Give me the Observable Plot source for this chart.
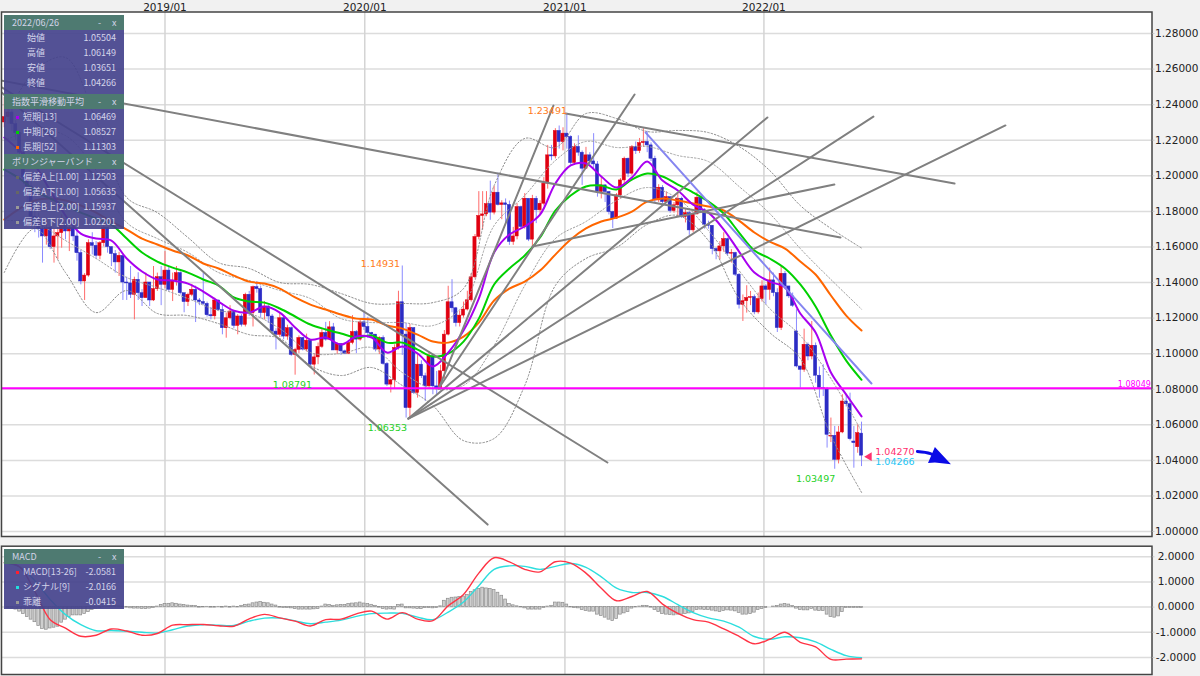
<!DOCTYPE html>
<html lang="ja"><head><meta charset="utf-8">
<script src="https://cdn.jsdelivr.net/npm/d3@7"></script>
<script src="https://cdn.jsdelivr.net/npm/@observablehq/plot@0.6"></script>
<style>
html,body{margin:0;padding:0;background:#f1f1f1;overflow:hidden;width:1200px;height:676px}
#main,#macd{position:absolute;left:0}
#main{top:0}#macd{top:540px}
.box{position:absolute;left:4px;width:120px}
.t{position:absolute;font:9px "Noto Sans CJK JP","Noto Sans",sans-serif;color:#d4d4ea;line-height:12px;white-space:nowrap}
.sw{position:absolute;width:3px;height:3px}
</style></head><body>
<div id="main"></div><div id="macd"></div>
<script>
const firstWeek = -42, firstOpen = 1.2300;
const closes = [
1.2330,1.2356,1.2290,1.2240,1.2130,1.1990,1.1940,1.1770,1.1760,1.1700,
1.1659,1.1706,1.1599,1.1659,1.1678,1.1724,1.1687,1.1706,1.1659,1.1565,
1.1406,1.1439,1.1621,1.1606,1.1550,1.1621,1.1706,1.1599,1.1560,1.1513,
1.1550,1.1400,1.1395,1.1331,1.1415,1.1340,1.1312,1.1400,1.1299,1.1363,
1.1430,1.1387,1.1467,1.1359,1.1411,1.1453,1.1340,1.1290,1.1331,1.1359,
1.1299,1.1290,1.1280,1.1216,1.1210,1.1299,1.1245,1.1143,1.1199,1.1237,
1.1156,1.1209,1.1162,1.1331,1.1228,1.1374,1.1363,1.1228,1.1265,1.1209,
1.1124,1.1106,1.1199,1.1096,1.1143,1.0993,1.1021,1.1088,1.1023,1.1073,
1.0938,1.0979,1.1038,1.1116,1.1079,1.1148,1.1018,1.1054,1.1013,1.1000,
1.1060,1.1122,1.1079,1.1176,1.1150,1.1116,1.1107,1.1023,1.1088,1.0942,
1.0826,1.0850,1.1032,1.1289,1.1107,1.0694,1.1144,1.0779,1.0938,1.0873,
1.0816,1.0985,1.0816,1.0805,1.0901,1.1107,1.1289,1.1255,1.1172,1.1214,
1.1248,1.1300,1.1429,1.1656,1.1774,1.1783,1.1841,1.1793,1.1905,1.1836,
1.1845,1.1836,1.1628,1.1659,1.1824,1.1712,1.1871,1.1641,1.1871,1.1806,
1.1843,1.1956,1.2115,1.2109,1.2252,1.2190,1.2237,1.2218,1.2072,1.2162,
1.2130,1.2040,1.2115,1.2081,1.2064,1.1909,1.1946,1.1909,1.1796,1.1759,
1.1890,1.1974,1.2096,1.2012,1.2162,1.2139,1.2184,1.2190,1.2171,1.2096,
1.1862,1.1933,1.1852,1.1880,1.1802,1.1834,1.1871,1.1768,1.1790,1.1693,
1.1783,1.1877,1.1806,1.1725,1.1719,1.1588,1.1575,1.1603,1.1644,1.1562,
1.1566,1.1444,1.1275,1.1295,1.1313,1.1318,1.1232,1.1307,1.1378,1.1359,
1.1412,1.1341,1.1144,1.1449,1.1378,1.1322,1.1269,1.0928,1.0909,1.1050,
1.0984,1.1044,1.0876,1.0806,1.0800,1.0544,1.0538,1.0403,1.0557,1.0731,
1.0716,1.0519,1.0497,1.0553,1.04266];
const highs = [
1.2440,1.2390,1.2380,1.2310,1.2250,1.2140,1.2000,1.1990,1.1830,1.1790,
1.1720,1.1750,1.1720,1.1700,1.1720,1.1780,1.1750,1.1740,1.1720,1.1700,
1.1580,1.1450,1.1640,1.1680,1.1630,1.1630,1.1730,1.1710,1.1600,1.1580,
1.1570,1.1520,1.1430,1.1490,1.1430,1.1455,1.1360,1.1453,1.1400,1.1490,
1.1453,1.1490,1.1574,1.1490,1.1453,1.1490,1.1460,1.1320,1.1340,1.1390,
1.1380,1.1310,1.1453,1.1290,1.1260,1.1312,1.1300,1.1280,1.1228,1.1270,
1.1240,1.1220,1.1220,1.1340,1.1350,1.1380,1.1405,1.1380,1.1293,1.1270,
1.1220,1.1140,1.1228,1.1210,1.1160,1.1150,1.1030,1.1100,1.1090,1.1110,
1.1080,1.1000,1.1060,1.1135,1.1176,1.1180,1.1170,1.1060,1.1054,1.1020,
1.1070,1.1214,1.1130,1.1190,1.1238,1.1205,1.1120,1.1107,1.1095,1.1100,
1.0950,1.0855,1.1050,1.1351,1.1493,1.1170,1.1165,1.1144,1.1000,1.0960,
1.0890,1.1010,1.0995,1.0900,1.0935,1.1130,1.1379,1.1416,1.1260,1.1240,
1.1290,1.1351,1.1450,1.1670,1.1911,1.1911,1.1911,1.1970,1.1940,1.2015,
1.1860,1.1870,1.1858,1.1710,1.1843,1.1830,1.1900,1.1860,1.1890,1.1884,
1.1860,1.1990,1.2171,1.2171,1.2265,1.2280,1.2270,1.2349,1.2225,1.2180,
1.2225,1.2140,1.2160,1.2130,1.2237,1.2080,1.1990,1.1950,1.1910,1.1800,
1.1900,1.1985,1.2105,1.2100,1.2170,1.2190,1.2210,1.2265,1.2250,1.2185,
1.2110,1.1950,1.1945,1.1910,1.1880,1.1850,1.1905,1.1880,1.1810,1.1800,
1.1790,1.1905,1.1885,1.1815,1.1745,1.1720,1.1595,1.1630,1.1680,1.1650,
1.1585,1.1570,1.1450,1.1330,1.1382,1.1350,1.1330,1.1341,1.1410,1.1388,
1.1481,1.1453,1.1365,1.1494,1.1462,1.1375,1.1341,1.1247,1.0925,1.1138,
1.1060,1.1181,1.1060,1.0925,1.0938,1.0810,1.0638,1.0591,1.0591,1.0769,
1.0770,1.0778,1.0590,1.0600,1.06149];
const lows = [
1.2270,1.2290,1.2250,1.2200,1.2090,1.1950,1.1840,1.1730,1.1680,1.1650,
1.1509,1.1610,1.1585,1.1509,1.1528,1.1593,1.1640,1.1574,1.1630,1.1520,
1.1387,1.1299,1.1430,1.1555,1.1530,1.1528,1.1600,1.1565,1.1490,1.1453,
1.1434,1.1299,1.1299,1.1310,1.1190,1.1299,1.1265,1.1320,1.1265,1.1293,
1.1350,1.1270,1.1365,1.1350,1.1293,1.1380,1.1330,1.1230,1.1265,1.1320,
1.1175,1.1270,1.1270,1.1205,1.1190,1.1190,1.1240,1.1106,1.1087,1.1190,
1.1140,1.1106,1.1150,1.1150,1.1210,1.1150,1.1340,1.1200,1.1190,1.1170,
1.1106,1.1021,1.1090,1.1078,1.1075,1.0985,1.0879,1.1000,1.1015,1.1010,
1.0929,1.0880,1.0938,1.1030,1.1070,1.1075,1.1018,1.0995,1.0990,1.0995,
1.0995,1.1050,1.1000,1.1070,1.1130,1.1085,1.1090,1.1010,1.0995,1.0935,
1.0815,1.0779,1.0800,1.1020,1.0990,1.0638,1.0635,1.0770,1.0750,1.0860,
1.0732,1.0810,1.0769,1.0770,1.0800,1.0860,1.1100,1.1230,1.1150,1.1150,
1.1200,1.1240,1.1290,1.1420,1.1640,1.1695,1.1770,1.1750,1.1780,1.1830,
1.1753,1.1730,1.1609,1.1609,1.1640,1.1700,1.1700,1.1630,1.1600,1.1731,
1.1780,1.1830,1.1925,1.2085,1.2095,1.2150,1.2140,1.2150,1.2060,1.2060,
1.2110,1.1946,1.2065,1.2060,1.2040,1.1880,1.1870,1.1850,1.1780,1.1703,
1.1755,1.1870,1.1950,1.1990,1.2000,1.2120,1.2125,1.2160,1.2130,1.2080,
1.1850,1.1850,1.1840,1.1845,1.1790,1.1790,1.1770,1.1760,1.1735,1.1665,
1.1680,1.1780,1.1790,1.1700,1.1700,1.1556,1.1528,1.1528,1.1570,1.1550,
1.1509,1.1434,1.1251,1.1181,1.1228,1.1270,1.1219,1.1222,1.1290,1.1275,
1.1300,1.1320,1.1119,1.1130,1.1360,1.1310,1.1260,1.0920,1.0806,1.0895,
1.0960,1.0965,1.0834,1.0750,1.0759,1.0469,1.0500,1.0350,1.0380,1.0550,
1.0700,1.0510,1.0356,1.0440,1.03651];
const openGaps = new Map([[165,1.1125],[174,1.0534],[180,1.0506],[181,1.0474],[182,1.05504]]);

// Every 4th week
const ema13 = [1.2215,1.2142,1.2058,1.1917,1.1777,1.1675,1.1647,1.1636,1.1535,1.1462,
1.1417,1.1411,1.1394,1.1349,1.1293,1.1242,1.1231,1.1265,1.1231,1.1147,
1.1079,1.1091,1.1051,1.1096,1.1091,1.1006,1.1040,1.1001,1.0928,1.1006,
1.1130,1.1310,1.1569,1.1670,1.1715,1.1782,1.1957,1.2058,1.2069,1.1996,
1.1934,1.1990,1.2080,1.1973,1.1917,1.1838,1.1793,1.1698,1.1574,1.1456,
1.1405,1.1372,1.1226,1.1119,1.0894,1.0770,1.0647];
const ema26 = [1.2035,1.1985,1.1917,1.1872,1.1833,1.1793,1.1760,1.1726,1.1647,1.1569,
1.1518,1.1484,1.1456,1.1417,1.1383,1.1316,1.1293,1.1287,1.1254,1.1209,
1.1164,1.1136,1.1113,1.1091,1.1102,1.1062,1.1062,1.1023,1.0984,1.1001,
1.1068,1.1197,1.1389,1.1479,1.1552,1.1653,1.1805,1.1889,1.1940,1.1945,
1.1923,1.1979,1.2013,1.1996,1.1951,1.1906,1.1855,1.1788,1.1681,1.1580,
1.1535,1.1479,1.1389,1.1265,1.1102,1.0961,1.0853];
const ema52 = [1.1754,1.1816,1.1861,1.1872,1.1861,1.1833,1.1793,1.1743,1.1698,1.1647,
1.1614,1.1580,1.1552,1.1507,1.1479,1.1439,1.1405,1.1394,1.1366,1.1316,
1.1276,1.1248,1.1220,1.1197,1.1192,1.1158,1.1141,1.1107,1.1068,1.1062,
1.1096,1.1175,1.1299,1.1366,1.1405,1.1467,1.1557,1.1642,1.1704,1.1743,
1.1765,1.1799,1.1855,1.1872,1.1861,1.1844,1.1827,1.1805,1.1748,1.1681,
1.1630,1.1591,1.1518,1.1445,1.1327,1.1214,1.1130];

// Every 8th week
const bandBUp = [1.2311,1.2592,1.2665,1.2311,1.1878,1.1793,1.1653,1.1512,1.1479,1.1400,
1.1389,1.1338,1.1282,1.1282,1.1287,1.1366,1.1945,1.2210,1.2159,1.2350,
1.2322,1.2249,1.2255,1.2243,1.2165,1.2030,1.1833,1.1704,1.1594];
const bandAUp = [1.2198,1.2255,1.2226,1.2030,1.1737,1.1647,1.1569,1.1456,1.1411,1.1355,
1.1310,1.1197,1.1175,1.1175,1.1158,1.1271,1.1720,1.1889,1.2086,1.2193,
1.2159,1.2165,1.2114,1.2080,1.1940,1.1788,1.1591,1.1417,1.1250];
const bandADn = [1.1748,1.1737,1.1636,1.1535,1.1428,1.1372,1.1310,1.1242,1.1226,1.1141,
1.1006,1.1001,1.1034,1.0894,1.0804,1.0821,1.1046,1.1383,1.1647,1.1743,
1.1861,1.1934,1.1872,1.1692,1.1467,1.1254,1.1102,1.0860,1.0564];
const bandBDn = [1.1456,1.1704,1.1456,1.1231,1.1355,1.1226,1.1214,1.1169,1.1107,1.1085,
1.0933,1.0877,1.0922,1.0821,1.0708,1.0511,1.0523,1.0821,1.1383,1.1535,
1.1597,1.1726,1.1777,1.1636,1.1310,1.1119,1.0973,1.0540,1.0220];

// [week1, price1, week2, price2]
const grayLines = [
[71.5,1.0804,101.5,1.2395],[71.5,1.0804,122.7,1.2457],
[63.6,1.0635,157.4,1.2328],[63.6,1.0635,185.1,1.2333],[63.6,1.0635,219.6,1.2283],
[-43,1.2474,84.3,1.0039],[-43,1.2502,115.6,1.0388],[-43,1.2536,176.5,1.1653],
[104.7,1.2350,206.3,1.1957],[96,1.1602,174.9,1.1951]];
const blueLine = [125.6,1.2243,184.6,1.0832];
const levelLine = 1.08049;

const priceTicks = [1.00,1.02,1.04,1.06,1.08,1.10,1.12,1.14,1.16,1.18,1.20,1.22,1.24,1.26,1.28];
const yearWeeks = [0,52.2,104.5,156.5];
const yearLabels = ["2019/01","2020/01","2021/01","2022/01"];
const notesCentered = [
["1.23491",99.9,1.2367,"#ff7a1a"],["1.14931",56.3,1.1507,"#ff7a1a"],
["1.08791",33.3,1.0826,"#1fd11f"],["1.06353",58.1,1.0585,"#1fd11f"],
["1.03497",170,1.0298,"#1fd11f"]];
const notesLeft = [["1.04270",185.6,1.0450,"#ff2f6e"],["1.04266",185.6,1.0393,"#1cc5f5"]];
const notesRight = [["1.08049",257.6,1.0826,"#ff00ff"]];
const arrowShaft = [[196.6,1.0450],[200,1.0438],[202.6,1.0405]];
const arrowHead = [[199.5,1.0382,1.0382],[201.3,1.0385,1.0472],[205.5,1.0376,1.0376]];

// MACD
const macdLine = [1.76,1.6,.62,-.5,-.84,-1.16,-1.12,-.87,-.95,-1.12,
-1.05,-.72,-.7,-.69,-.74,-.76,-.47,-.29,-.43,-.56,
-.75,-.5,-.48,-.27,-.16,-.48,-.22,-.48,-.54,.05,
.5,1.35,1.96,1.8,1.5,1.4,1.8,1.75,1.35,.75,
.25,.42,.62,.12,-.25,-.5,-.6,-.87,-1.16,-1.46,
-1.28,-1.0,-1.4,-1.58,-2.08,-2.07,-2.0581];
const signalLine = [1.76,1.6,1.05,.3,-.3,-.7,-.94,-.93,-.96,-1.0,
-1.03,-.9,-.75,-.7,-.72,-.73,-.56,-.44,-.44,-.55,
-.66,-.6,-.52,-.37,-.26,-.24,-.25,-.4,-.5,-.2,
.2,.85,1.5,1.64,1.62,1.5,1.62,1.73,1.58,1.2,
.75,.58,.58,.42,.1,-.22,-.43,-.56,-.8,-1.17,
-1.28,-1.18,-1.22,-1.38,-1.68,-1.93,-2.0166];
const histogram = [0,-.03,-.06,-.1,-.18,-.28,-.4,-.5,-.6,-.75,
-.87,-.9,-.85,-.82,-.78,-.62,-.5,-.4,-.33,-.33,
-.33,-.27,-.2,-.12,-.06,-.03,.01,.02,.03,.04,
.03,.02,-.02,-.05,-.06,-.06,-.07,-.08,-.06,-.03,
.02,.08,.12,.13,.15,.13,.1,.08,.06,.05,
.04,-.02,-.01,.01,-.02,-.02,.01,-.02,.02,-.02,
.02,-.01,.05,.09,.1,.15,.18,.2,.17,.15,
.1,.06,-.02,-.04,-.04,-.05,-.08,-.1,-.1,-.1,
-.1,-.09,-.08,.02,.1,.08,.05,.07,.08,.08,
.12,.14,.15,.18,.14,.12,.09,.05,-.02,-.08,
-.1,-.09,-.1,.08,.1,-.05,-.05,-.06,-.07,-.08,
-.04,-.04,-.05,-.04,.03,.25,.33,.37,.38,.4,
.42,.48,.6,.67,.72,.77,.74,.72,.68,.57,
.45,.3,.12,.07,.03,-.01,-.05,-.1,-.1,-.1,
-.1,-.03,.02,.05,.18,.18,.17,.1,-.01,-.04,
-.05,-.12,-.16,-.18,-.18,-.3,-.35,-.42,-.5,-.55,
-.47,-.3,-.25,-.2,-.06,-.01,.02,.05,.04,-.02,
-.12,-.2,-.28,-.3,-.32,-.33,-.3,-.3,-.28,-.25,
-.2,-.12,-.1,-.12,-.12,-.14,-.17,-.2,-.16,-.13,
-.14,-.17,-.23,-.3,-.3,-.28,-.22,-.12,-.08,-.04,
0,.02,.04,.1,.12,.1,.04,-.06,-.12,-.13,
-.13,-.07,-.14,-.15,-.16,-.3,-.4,-.42,-.37,-.2,
-.04,-.03,-.03,-.03,-.0415];
const macdTicks = [2,1,0,-1,-2];

// Info panels
const panelRows = {
 ohlc:[["始値","1.05504"],["高値","1.06149"],["安値","1.03651"],["終値","1.04266"]],
 ema:[["短期[13]","1.06469","#a800f0"],["中期[26]","1.08527","#00d000"],["長期[52]","1.11303","#ff6600"]],
 boll:[["偏差A上[1.00]","1.12503","#666"],["偏差A下[1.00]","1.05635","#666"],["偏差B上[2.00]","1.15937","#999"],["偏差B下[2.00]","1.02201","#999"]],
 macd:[["MACD[13-26]","-2.0581","#ff2030"],["シグナル[9]","-2.0166","#22dddd"],["乖離","-0.0415","#999"]]
};

const candles = closes.map((c,i)=>{
  const w = firstWeek+i;
  const o = openGaps.has(w) ? openGaps.get(w) : (i ? closes[i-1] : firstOpen);
  return {w,o,c,h:highs[i],l:lows[i],up:c>=o};
});
const weeks4 = d3.range(-42,183,4), weeks8 = d3.range(-42,183,8);
const pts = (ws,vs)=>ws.map((w,i)=>({w,v:vs[i]}));
const smooth = "catmull-rom";
const font = {fontFamily:"DejaVu Sans, sans-serif",fontSize:"10.5px",background:"transparent"};
const gridC = "#dcdcdc", frameC = "#444";

const band = (vs,c)=>Plot.line(pts(weeks8,vs),{x:"w",y:"v",stroke:c,strokeWidth:1,strokeDasharray:"1.5 2",curve:smooth,clip:true});
const ema = (vs,c)=>Plot.line(pts(weeks4,vs),{x:"w",y:"v",stroke:c,strokeWidth:2,curve:smooth,clip:true});
const note = (rows,anchor,size)=>Plot.text(rows,{x:d=>d[1],y:d=>d[2],text:d=>d[0],fill:d=>d[3],textAnchor:anchor,fontSize:size});

const main = Plot.plot({
  width:1200,height:540,marginTop:11.5,marginBottom:4,marginLeft:1,marginRight:48.5,
  style:font,
  x:{type:"linear",domain:[-42.72,257.9]},
  y:{type:"linear",domain:[0.9972,1.2921]},
  marks:[
    Plot.frame({fill:"white"}),
    Plot.ruleY(priceTicks,{stroke:gridC,strokeWidth:1.5}),
    Plot.ruleX(yearWeeks,{stroke:"#d4d4d4",strokeWidth:1.5}),
    Plot.ruleX(candles,{x:"w",y1:"l",y2:"h",stroke:d=>d.up?"#ff6a6a":"#8a8aff",strokeWidth:1,clip:true}),
    Plot.rect(candles,{x1:d=>d.w-.42,x2:d=>d.w+.42,y1:"o",y2:"c",fill:d=>d.up?"#e00010":"#2c2cc4",stroke:d=>d.up?"#e00010":"#2c2cc4",strokeWidth:.5,clip:true}),
    band(bandBUp,"#8c8c8c"),band(bandBDn,"#8c8c8c"),band(bandAUp,"#a0a0a0"),band(bandADn,"#a0a0a0"),
    ema(ema52,"#ff6600"),ema(ema26,"#00d000"),ema(ema13,"#a800f0"),
    ...grayLines.map(g=>Plot.line([[g[0],g[1]],[g[2],g[3]]],{x:d=>d[0],y:d=>d[1],stroke:"#808080",strokeWidth:2,clip:true})),
    Plot.line([[blueLine[0],blueLine[1]],[blueLine[2],blueLine[3]]],{x:d=>d[0],y:d=>d[1],stroke:"#8585f0",strokeWidth:2}),
    Plot.ruleY([levelLine],{stroke:"#ff00ff",strokeWidth:2}),
    note(notesCentered,"middle",9.5),
    note(notesLeft,"start",9.5),
    note(notesRight,"end",8),
    Plot.dot([[184,1.0421]],{x:d=>d[0],y:d=>d[1],symbol:"triangle",r:3.2,fill:"#ff2f6e",rotate:-90}),
    Plot.line(arrowShaft,{x:d=>d[0],y:d=>d[1],stroke:"#0a0ae6",strokeWidth:3,curve:smooth}),
    Plot.area(arrowHead,{x1:d=>d[0],y1:d=>d[1],y2:d=>d[2],fill:"#0a0ae6"}),
    Plot.frame({stroke:frameC,strokeWidth:1.5}),
    Plot.axisY(priceTicks,{anchor:"right",tickSize:2,tickPadding:1,stroke:"#ccc",tickFormat:d=>d.toFixed(5),label:null,fill:"#222"}),
    Plot.axisX(yearWeeks,{anchor:"top",tickSize:0,tickPadding:1,label:null,fill:"#222",tickFormat:d=>yearLabels[yearWeeks.indexOf(d)]})
  ]
});
document.getElementById("main").append(main);

const macdChart = Plot.plot({
  width:1200,height:136,marginTop:5.7,marginBottom:2,marginLeft:1,marginRight:48.5,
  style:font,
  x:{type:"linear",domain:[-42.72,257.9],axis:null},
  y:{type:"linear",domain:[-2.68,2.42]},
  marks:[
    Plot.frame({fill:"white"}),
    Plot.ruleY(macdTicks,{stroke:gridC,strokeWidth:1.5}),
    Plot.ruleX(yearWeeks,{stroke:"#d4d4d4",strokeWidth:1.5}),
    Plot.rect(histogram.map((v,i)=>({w:firstWeek+i,v})),{x1:d=>d.w-.36,x2:d=>d.w+.36,y1:0,y2:"v",fill:"#cfcfcf",stroke:"#8c8c8c",strokeWidth:.7}),
    Plot.line(pts(weeks4,signalLine),{x:"w",y:"v",stroke:"#2ddede",strokeWidth:1.4,curve:smooth}),
    Plot.line(pts(weeks4,macdLine),{x:"w",y:"v",stroke:"#ff3344",strokeWidth:1.4,curve:smooth}),
    Plot.frame({stroke:frameC,strokeWidth:1.5}),
    Plot.axisY(macdTicks,{anchor:"right",tickSize:2,tickPadding:22,stroke:"#ccc",textAnchor:"middle",tickFormat:d=>d.toFixed(4),label:null,fill:"#222"})
  ]
});
document.getElementById("macd").append(macdChart);

// Info panels as real HTML text
function panel(top,sections){
  const box=document.createElement("div");box.className="box";box.style.top=top+"px";
  const add=(cls,css,txt)=>{const e=document.createElement("div");e.className=cls;e.style.cssText=css;if(txt!=null)e.textContent=txt;box.append(e);};
  for(const s of sections){
    add("", `position:absolute;left:0;width:120px;top:${s.y}px;height:${s.h}px;background:rgba(68,66,140,.92)`);
    add("", `position:absolute;left:0;width:120px;top:${s.y}px;height:15px;background:rgba(78,124,112,.97)`);
    add("t",`left:8px;top:${s.y+1.5}px`,s.title);
    add("t",`left:94px;top:${s.y+1.5}px`,"-");
    add("t",`left:108px;top:${s.y+1.5}px`,"x");
    s.rows.forEach((r,i)=>{
      const cy=s.y+15+s.gap+i*15;
      if(r[2]) add("sw",`left:11.5px;top:${cy+4.5}px;background:${r[2]}`);
      add("t",`left:${r[2]?19:23}px;top:${cy}px`,r[0]);
      add("t",`right:8px;top:${cy}px`,r[1]);
    });
  }
  document.body.append(box);
}
panel(15,[
 {y:0,h:79,title:"2022/06/26",rows:panelRows.ohlc,gap:2},
 {y:79,h:60,title:"指数平滑移動平均",rows:panelRows.ema,gap:2},
 {y:139,h:75,title:"ボリンジャーバンド",rows:panelRows.boll,gap:2}
]);
panel(549,[{y:0,h:60,title:"MACD",rows:panelRows.macd,gap:2}]);
</script>
</body></html>
